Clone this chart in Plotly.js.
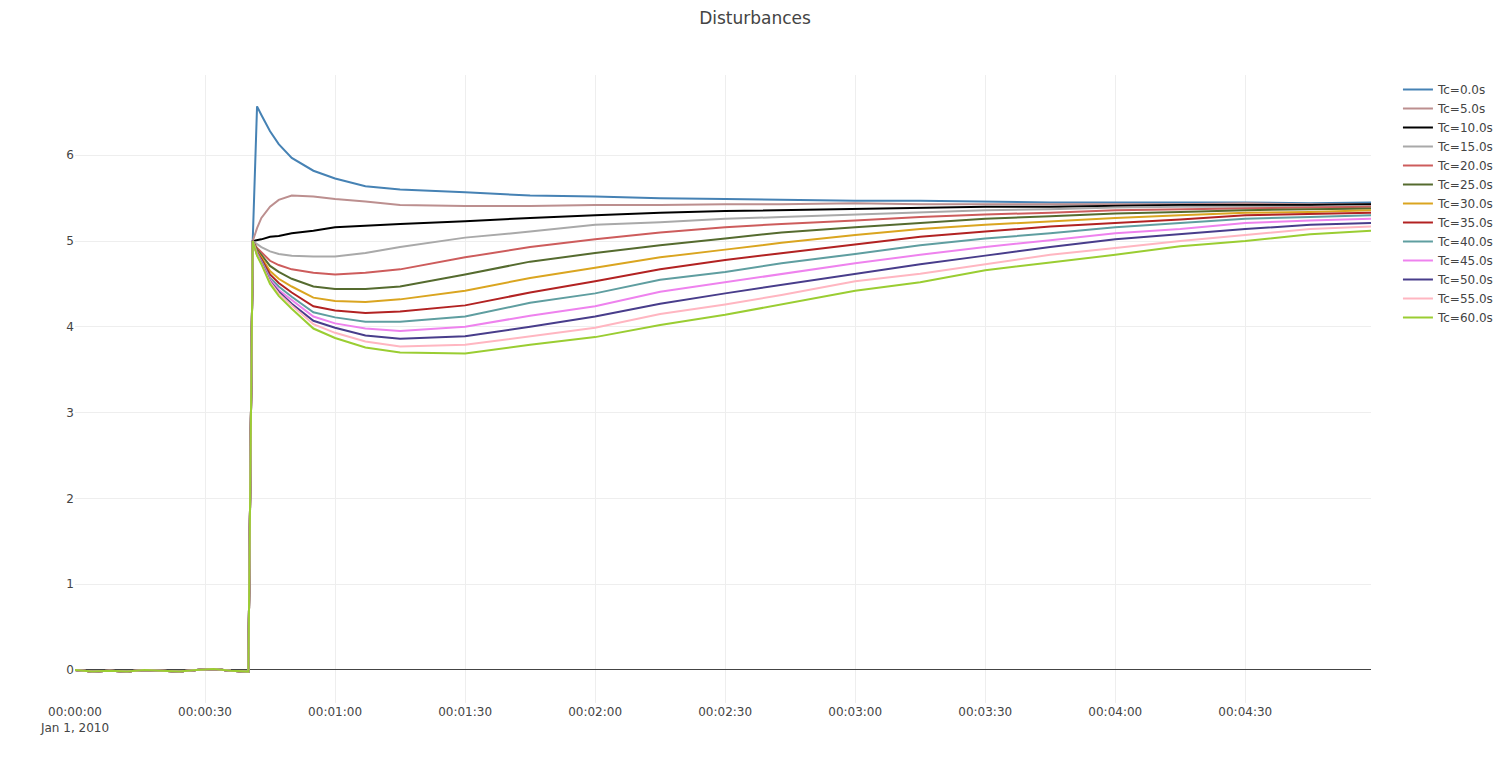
<!DOCTYPE html>
<html>
<head>
<meta charset="utf-8">
<script src="https://cdn.plot.ly/plotly-3.0.1.min.js"></script>
<style>
  body { margin: 0; background: #fff; }
  #chart { width: 1510px; height: 775px; }
</style>
</head>
<body>
<div id="chart"></div>
<script>
// seconds after 2010-01-01 00:00:00
var secs = [0, 4, 8, 12, 16, 20, 24, 28, 32, 36, 40,
  41, 42, 43, 45, 47, 50, 55, 60, 67, 75, 90, 105, 120, 135, 150, 163,
  180, 195, 210, 225, 240, 255, 270, 285, 299];

// flat part before the disturbance (t = 0..40 s), same for every run
var before = [0.00, -0.02, -0.01, -0.02, 0.00, -0.01, -0.02, 0.00, 0.01, -0.01, -0.02];

// values from t = 41 s on
var tc0  = [5.00, 6.57, 6.47, 6.28, 6.13, 5.97, 5.82, 5.73, 5.64, 5.60, 5.57, 5.53, 5.52, 5.50, 5.49, 5.48, 5.47, 5.47, 5.46, 5.45, 5.45, 5.45, 5.45, 5.44, 5.45];
var tc5  = [5.00, 5.15, 5.27, 5.40, 5.48, 5.53, 5.52, 5.49, 5.46, 5.42, 5.41, 5.41, 5.42, 5.42, 5.43, 5.43, 5.44, 5.43, 5.43, 5.43, 5.43, 5.43, 5.44, 5.43, 5.43];
var tc10 = [5.00, 5.01, 5.02, 5.05, 5.06, 5.09, 5.12, 5.16, 5.18, 5.20, 5.23, 5.27, 5.30, 5.33, 5.35, 5.36, 5.37, 5.39, 5.40, 5.40, 5.41, 5.42, 5.42, 5.42, 5.43];
var tc15 = [5.00, 4.96, 4.93, 4.88, 4.85, 4.83, 4.82, 4.82, 4.86, 4.93, 5.04, 5.11, 5.19, 5.22, 5.26, 5.28, 5.31, 5.34, 5.36, 5.37, 5.39, 5.40, 5.40, 5.40, 5.41];
var tc20 = [5.00, 4.92, 4.87, 4.77, 4.72, 4.67, 4.63, 4.61, 4.63, 4.67, 4.81, 4.93, 5.02, 5.10, 5.16, 5.20, 5.24, 5.28, 5.31, 5.33, 5.36, 5.37, 5.38, 5.39, 5.40];
var tc25 = [5.00, 4.90, 4.84, 4.71, 4.64, 4.56, 4.47, 4.44, 4.44, 4.47, 4.61, 4.76, 4.86, 4.95, 5.03, 5.10, 5.16, 5.21, 5.26, 5.29, 5.32, 5.34, 5.36, 5.37, 5.38];
var tc30 = [5.00, 4.88, 4.81, 4.65, 4.56, 4.47, 4.34, 4.30, 4.29, 4.32, 4.42, 4.57, 4.69, 4.81, 4.90, 4.98, 5.07, 5.14, 5.19, 5.23, 5.27, 5.30, 5.33, 5.34, 5.36];
var tc35 = [5.00, 4.87, 4.79, 4.61, 4.51, 4.40, 4.24, 4.19, 4.16, 4.18, 4.25, 4.40, 4.53, 4.67, 4.78, 4.86, 4.96, 5.05, 5.11, 5.17, 5.21, 5.25, 5.30, 5.32, 5.33];
var tc40 = [5.00, 4.86, 4.77, 4.57, 4.47, 4.35, 4.17, 4.11, 4.06, 4.06, 4.12, 4.28, 4.39, 4.55, 4.64, 4.74, 4.85, 4.95, 5.03, 5.09, 5.16, 5.21, 5.26, 5.28, 5.30];
var tc45 = [5.00, 4.85, 4.76, 4.55, 4.43, 4.31, 4.12, 4.04, 3.98, 3.95, 4.00, 4.13, 4.24, 4.41, 4.52, 4.61, 4.74, 4.84, 4.93, 5.01, 5.09, 5.14, 5.21, 5.24, 5.26];
var tc50 = [5.00, 4.84, 4.75, 4.53, 4.41, 4.27, 4.07, 3.99, 3.90, 3.86, 3.89, 4.00, 4.12, 4.27, 4.39, 4.49, 4.62, 4.73, 4.83, 4.93, 5.02, 5.08, 5.14, 5.19, 5.21];
var tc55 = [5.00, 4.84, 4.74, 4.52, 4.39, 4.25, 4.03, 3.93, 3.83, 3.77, 3.79, 3.89, 3.99, 4.15, 4.26, 4.37, 4.53, 4.62, 4.73, 4.84, 4.92, 5.00, 5.07, 5.14, 5.17];
var tc60 = [5.00, 4.83, 4.73, 4.50, 4.36, 4.21, 3.98, 3.87, 3.76, 3.70, 3.69, 3.79, 3.88, 4.02, 4.14, 4.26, 4.42, 4.52, 4.66, 4.75, 4.84, 4.94, 5.00, 5.08, 5.12];

var names = ['Tc=0.0s', 'Tc=5.0s', 'Tc=10.0s', 'Tc=15.0s', 'Tc=20.0s', 'Tc=25.0s', 'Tc=30.0s',
  'Tc=35.0s', 'Tc=40.0s', 'Tc=45.0s', 'Tc=50.0s', 'Tc=55.0s', 'Tc=60.0s'];
var series = [tc0, tc5, tc10, tc15, tc20, tc25, tc30, tc35, tc40, tc45, tc50, tc55, tc60];
var colors = ['#4682b4', '#bc8f8f', '#000000', '#a9a9a9', '#cd5c5c', '#556b2f', '#daa520',
  '#b22222', '#5f9ea0', '#ee82ee', '#483d8b', '#ffb6c1', '#9acd32'];

function stamp(s) {
  return new Date(Date.UTC(2010, 0, 1, 0, 0, s)).toISOString().replace('T', ' ').slice(0, 19);
}
var xs = secs.map(stamp);

var data = series.map(function (vals, i) {
  return {
    x: xs,
    y: before.concat(vals),
    name: names[i],
    type: 'scatter',
    mode: 'lines',
    line: {color: colors[i], width: 2}
  };
});

var layout = {
  width: 1510,
  height: 775,
  font: {family: '"DejaVu Sans", Verdana, sans-serif', size: 12, color: '#444'},
  title: {
    text: 'Disturbances',
    font: {size: 17},
    x: 0.5, xref: 'container',
    y: 1 - 18 / 775, yref: 'container', yanchor: 'middle'
  },
  margin: {l: 75, r: 138, t: 75, b: 72},
  xaxis: {type: 'date', gridcolor: '#eee'},
  yaxis: {gridcolor: '#eee', zeroline: true, zerolinecolor: '#444'},
  paper_bgcolor: '#fff',
  plot_bgcolor: '#fff'
};

Plotly.newPlot('chart', data, layout, {displayModeBar: false});
</script>
</body>
</html>
